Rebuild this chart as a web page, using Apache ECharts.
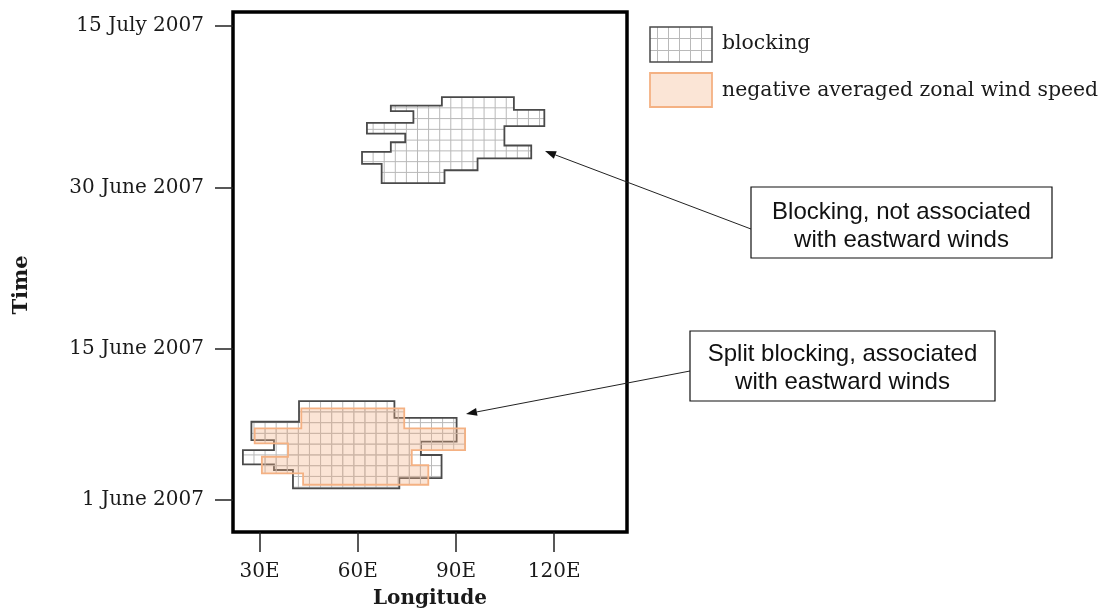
<!DOCTYPE html>
<html><head><meta charset="utf-8">
<script src="https://cdn.jsdelivr.net/npm/echarts@6/dist/echarts.min.js"></script>
<style>html,body{margin:0;padding:0;background:#fff}#c{width:1111px;height:610px}</style>
</head><body><div id="c"></div>
<script>
// ---- data (longitude in degrees E, time = day of June 2007; 1 July = 31) ----
const xTickValues = [30, 60, 90, 120];
const xTickLabels = ['30E', '60E', '90E', '120E'];
const yTickValues = [1, 15, 30, 45];
const yTickLabels = ['1 June 2007', '15 June 2007', '30 June 2007', '15 July 2007'];
const gridStepLon = 3.39;   // grid cell width (deg)
const gridStepDay = 1;      // grid cell height (day)

// blocking event, late June / early July (outline vertices)
const blockingLate = [
  [85.7,38.4],[107.7,38.4],[107.7,37.2],[117.0,37.2],[117.0,35.7],[104.8,35.7],
  [104.8,33.9],[113.0,33.9],[113.0,32.7],[96.6,32.7],[96.6,31.6],[86.5,31.6],
  [86.5,30.4],[67.3,30.4],[67.3,32.2],[61.3,32.2],[61.3,33.3],[70.1,33.3],
  [70.1,34.2],[74.5,34.2],[74.5,35.0],[62.8,35.0],[62.8,36.0],[77.0,36.0],
  [77.0,37.1],[70.1,37.1],[70.1,37.6],[85.7,37.6]
];
// blocking event, early June
const blockingEarly = [
  [42.05,10.16],[71.2,10.16],[71.2,8.6],[90.2,8.6],[90.2,6.4],[79.3,6.4],
  [79.3,5.15],[85.6,5.15],[85.6,3.0],[72.7,3.0],[72.7,2.06],[40.2,2.06],
  [40.2,3.76],[34.4,3.76],[34.4,4.29],[24.9,4.29],[24.9,5.61],[34.4,5.61],
  [34.4,6.54],[27.5,6.54],[27.5,8.24],[42.05,8.24]
];
// negative averaged zonal wind speed, early June
const negWindEarly = [
  [42.75,9.49],[74.2,9.49],[74.2,7.63],[92.8,7.63],[92.8,5.61],[76.5,5.61],
  [76.5,4.22],[81.55,4.22],[81.55,2.39],[43.3,2.39],[43.3,3.45],[30.7,3.45],
  [30.7,4.99],[38.7,4.99],[38.7,6.24],[28.5,6.24],[28.5,7.63],[42.75,7.63]
];

const blockingShapes = [blockingLate, blockingEarly];
const windShapes = [negWindEarly];
const windGridOrigin = [blockingEarly]; // wind area shares the grid of its blocking event

// ---- helpers ----
function bbox(poly){
  let x0=Infinity,x1=-Infinity,y0=Infinity,y1=-Infinity;
  poly.forEach(p=>{x0=Math.min(x0,p[0]);x1=Math.max(x1,p[0]);y0=Math.min(y0,p[1]);y1=Math.max(y1,p[1]);});
  return {x0,x1,y0,y1};
}
// segments of line (horizontal: y=c, else x=c) inside rectilinear polygon
function scan(poly, c, horizontal){
  const hits=[];
  for(let i=0;i<poly.length;i++){
    const a=poly[i], b=poly[(i+1)%poly.length];
    if(horizontal){
      if(a[0]===b[0]){const lo=Math.min(a[1],b[1]),hi=Math.max(a[1],b[1]); if(c>lo&&c<=hi) hits.push(a[0]);}
    } else {
      if(a[1]===b[1]){const lo=Math.min(a[0],b[0]),hi=Math.max(a[0],b[0]); if(c>lo&&c<=hi) hits.push(a[1]);}
    }
  }
  hits.sort((p,q)=>p-q);
  const segs=[]; for(let i=0;i+1<hits.length;i+=2) segs.push([hits[i],hits[i+1]]);
  return segs;
}
function gridLines(poly, origin, api, color){
  const bb=bbox(poly), ob=bbox(origin), out=[];
  const eps=1e-6;
  for(let k=-40;k<80;k++){
    const lon=ob.x0+k*gridStepLon;
    if(lon<=bb.x0+eps||lon>=bb.x1-eps) continue;
    scan(poly,lon,false).forEach(s=>{
      const p1=api.coord([lon,s[0]]), p2=api.coord([lon,s[1]]);
      out.push({type:'line',shape:{x1:p1[0],y1:p1[1],x2:p2[0],y2:p2[1]},style:{stroke:color,lineWidth:1}});
    });
  }
  for(let k=-40;k<80;k++){
    const d=ob.y1-k*gridStepDay;
    if(d<=bb.y0+eps||d>=bb.y1-eps) continue;
    scan(poly,d,true).forEach(s=>{
      const p1=api.coord([s[0],d]), p2=api.coord([s[1],d]);
      out.push({type:'line',shape:{x1:p1[0],y1:p1[1],x2:p2[0],y2:p2[1]},style:{stroke:color,lineWidth:1}});
    });
  }
  return out;
}
function centerOf(poly){const b=bbox(poly);return [(b.x0+b.x1)/2,(b.y0+b.y1)/2];}
function labelFor(values, labels){
  return v=>{for(let i=0;i<values.length;i++){if(Math.abs(values[i]-v)<1e-6) return labels[i];} return '';};
}
function arrow(x1,y1,x2,y2){
  const ang=Math.atan2(y2-y1,x2-x1), L=11, W=4;
  const bx=x2-L*Math.cos(ang), by=y2-L*Math.sin(ang);
  const nx=-Math.sin(ang)*W, ny=Math.cos(ang)*W;
  return [
    {type:'line',shape:{x1,y1,x2:bx,y2:by},style:{stroke:'#222',lineWidth:1}},
    {type:'polygon',shape:{points:[[x2,y2],[bx+nx,by+ny],[bx-nx,by-ny]]},style:{fill:'#111'}}
  ];
}

const serif='"DejaVu Serif", "Liberation Serif", serif';
const sans='"Liberation Sans", Arial, sans-serif';
const gridGray='#b9b9b9';

const chart=echarts.init(document.getElementById('c'),null,{renderer:'canvas'});

// legend swatch grid
const legendGrid=[];
[657.5,668.5,679.5,690.5,701.5].forEach(x=>legendGrid.push({type:'line',shape:{x1:x,y1:27,x2:x,y2:62},style:{stroke:gridGray,lineWidth:1}}));
[38.5,50.5].forEach(y=>legendGrid.push({type:'line',shape:{x1:650,y1:y,x2:712,y2:y},style:{stroke:gridGray,lineWidth:1}}));

chart.setOption({
  animation:false,
  backgroundColor:'#fff',
  grid:{left:233,right:484,top:12,bottom:78,outerBoundsMode:'none',containLabel:false,
    show:true,borderColor:'#000',borderWidth:3.5,backgroundColor:'transparent'},
  xAxis:{
    type:'value',min:21.88,max:142.26,
    name:'Longitude',nameLocation:'middle',nameGap:57,nameMoveOverlap:false,
    nameTextStyle:{fontFamily:serif,fontWeight:'bold',fontSize:20,color:'#1a1a1a'},
    axisLine:{show:false,onZero:false},splitLine:{show:false},
    axisTick:{show:true,inside:false,length:20,customValues:xTickValues,lineStyle:{color:'#222',width:1.5}},
    axisLabel:{customValues:xTickValues,formatter:labelFor(xTickValues,xTickLabels),margin:30,
      fontFamily:serif,fontSize:20,color:'#1a1a1a'}
  },
  yAxis:{
    type:'value',min:-2,max:46.3,
    axisLine:{show:false,onZero:false},splitLine:{show:false},
    axisTick:{show:true,inside:false,length:18,customValues:yTickValues,lineStyle:{color:'#222',width:1.5}},
    axisLabel:{customValues:yTickValues,formatter:labelFor(yTickValues,yTickLabels),margin:29,
      fontFamily:serif,fontSize:20,color:'#1a1a1a'}
  },
  series:[
    {
      type:'custom',name:'blocking',coordinateSystem:'cartesian2d',
      encode:{x:0,y:1},
      data:blockingShapes.map((s,i)=>centerOf(s).concat([i])),
      renderItem:function(params,api){
        const poly=blockingShapes[api.value(2)];
        const children=gridLines(poly,poly,api,gridGray);
        children.push({type:'polygon',shape:{points:poly.map(p=>api.coord(p))},
          style:{fill:'none',stroke:'#4a4a4a',lineWidth:1.8}});
        return {type:'group',children};
      }
    },
    {
      type:'custom',name:'negative averaged zonal wind speed',coordinateSystem:'cartesian2d',
      encode:{x:0,y:1},
      data:windShapes.map((s,i)=>centerOf(s).concat([i])),
      renderItem:function(params,api){
        const i=api.value(2), poly=windShapes[i];
        const children=gridLines(poly,windGridOrigin[i],api,gridGray);
        children.push({type:'polygon',shape:{points:poly.map(p=>api.coord(p))},
          style:{fill:'rgba(244,177,131,0.34)',stroke:'#f4b183',lineWidth:1.8}});
        return {type:'group',children};
      }
    }
  ],
  graphic:[
    {type:'group',children:[
      {type:'rect',shape:{x:650,y:27,width:62,height:35},style:{fill:'#fff'}},
      ...legendGrid,
      {type:'rect',shape:{x:650,y:27,width:62,height:35},style:{fill:'none',stroke:'#4a4a4a',lineWidth:1.5}},
      {type:'rect',shape:{x:650,y:73,width:62,height:34},style:{fill:'#fbe5d6',stroke:'#f4b183',lineWidth:1.8}},
      {type:'text',x:722,y:44,style:{text:'blocking',font:'20.4px '+serif,fill:'#1a1a1a',textVerticalAlign:'middle'}},
      {type:'text',x:722,y:91,style:{text:'negative averaged zonal wind speed',font:'20.4px '+serif,fill:'#1a1a1a',textVerticalAlign:'middle'}}
    ]},
    {type:'text',x:22,y:285,rotation:Math.PI/2,style:{text:'Time',font:'bold 21px '+serif,fill:'#1a1a1a',textAlign:'center',textVerticalAlign:'middle'}},
    {type:'group',children:[
      ...arrow(751,229,545,151),
      {type:'rect',shape:{x:751,y:187,width:301,height:71},style:{fill:'#fff',stroke:'#111',lineWidth:1.2}},
      {type:'text',x:901.5,y:212,style:{text:'Blocking, not associated',font:'24px '+sans,fill:'#111',textAlign:'center',textVerticalAlign:'middle'}},
      {type:'text',x:901.5,y:240,style:{text:'with eastward winds',font:'24px '+sans,fill:'#111',textAlign:'center',textVerticalAlign:'middle'}}
    ]},
    {type:'group',children:[
      ...arrow(690,371,466,414),
      {type:'rect',shape:{x:690,y:331,width:305,height:70},style:{fill:'#fff',stroke:'#111',lineWidth:1.2}},
      {type:'text',x:842.5,y:354,style:{text:'Split blocking, associated',font:'24px '+sans,fill:'#111',textAlign:'center',textVerticalAlign:'middle'}},
      {type:'text',x:842.5,y:382,style:{text:'with eastward winds',font:'24px '+sans,fill:'#111',textAlign:'center',textVerticalAlign:'middle'}}
    ]}
  ]
});
</script></body></html>
